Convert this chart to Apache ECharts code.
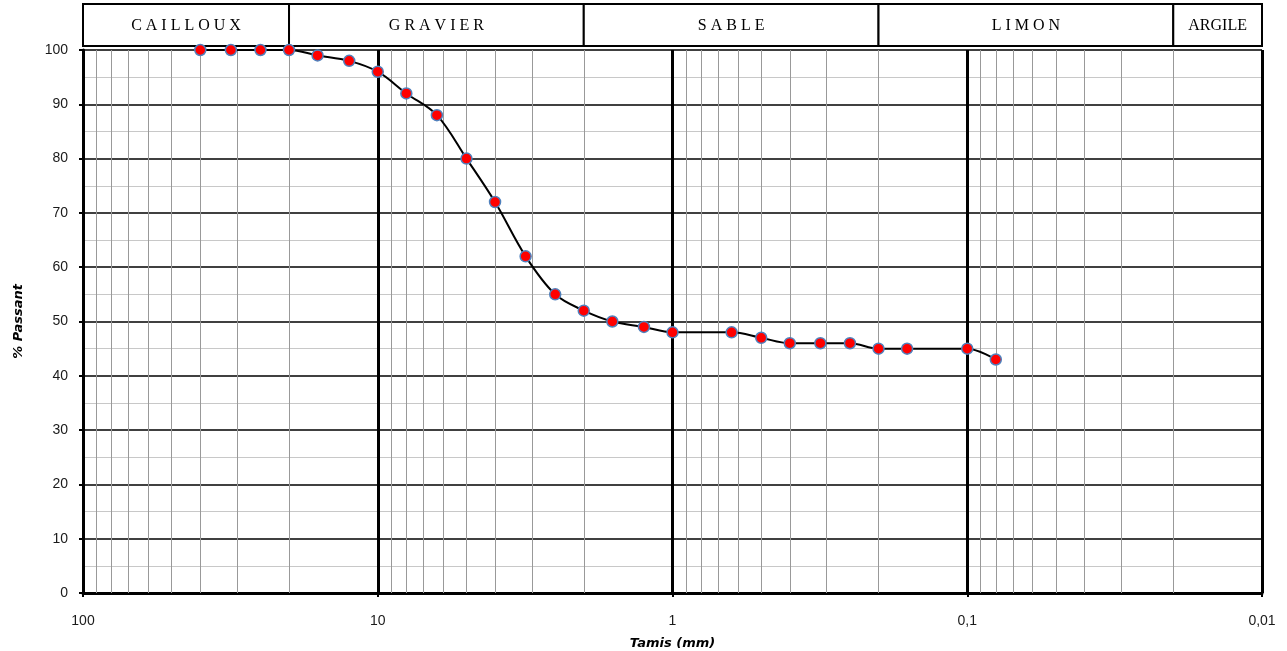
<!DOCTYPE html>
<html>
<head>
<meta charset="utf-8">
<script src="https://cdn.jsdelivr.net/npm/echarts@6/dist/echarts.min.js"></script>
<style>
  html, body { margin: 0; padding: 0; background: #fff; }
  #chart { width: 1287px; height: 651px; }
</style>
</head>
<body>
<div id="chart"></div>
<script>
// tamis (mm) et % passant
const sieves = [40, 31.5, 25, 20, 16, 12.5, 10, 8, 6.3, 5, 4, 3.15, 2.5, 2, 1.6, 1.25, 1, 0.63, 0.5, 0.4, 0.315, 0.25, 0.2, 0.16, 0.1, 0.08]
const passing = [100, 100, 100, 100, 99, 98, 96, 92, 88, 80, 72, 62, 55, 52, 50, 49, 48, 48, 47, 46, 46, 46, 45, 45, 45, 43]

// classes granulométriques (bandeau du haut)
const zoneEdges = [100, 20, 2, 0.2, 0.02, 0.01]
const zoneNames = ['C A I L L O U X', 'G R A V I E R', 'S A B L E', 'L I M O N', 'ARGILE']

// lignes de grille secondaires (2..9 par décade)
const decades = [10, 1, 0.1, 0.01]
const minorGrid = []
decades.forEach(d => {
  for (let k = 2; k <= 9; k++) minorGrid.push(+(d * k).toPrecision(3))
})
const thickLines = [10, 1, 0.1]

const chart = echarts.init(document.getElementById('chart'))

const nameStyle = { fontFamily: 'DejaVu Sans', fontStyle: 'italic', fontWeight: 'bold', fontSize: 13, color: '#000' }

let option = {
  animation: false,
  grid: { left: 83, right: 25, top: 50, bottom: 58, outerBoundsMode: 'none', containLabel: false },
  xAxis: {
    type: 'log',
    logBase: 10,
    min: 0.01,
    max: 100,
    inverse: true,
    name: 'Tamis (mm)',
    nameLocation: 'middle',
    nameGap: 44,
    nameTextStyle: nameStyle,
    axisLine: { lineStyle: { color: '#000', width: 3 } },
    axisTick: { show: true, length: 4, lineStyle: { color: '#000', width: 2 } },
    axisLabel: {
      margin: 21,
      fontFamily: 'Liberation Sans',
      fontSize: 14,
      color: '#1a1a1a',
      formatter: v => String(v).replace('.', ',')
    },
    splitLine: { show: true, lineStyle: { color: '#000', width: 3 } }
  },
  yAxis: {
    type: 'value',
    min: 0,
    max: 100,
    interval: 10,
    name: '% Passant',
    nameLocation: 'middle',
    nameGap: 58,
    nameRotate: 90,
    nameTextStyle: nameStyle,
    axisLine: { show: true, lineStyle: { color: '#000', width: 3 } },
    axisTick: { show: true, length: 4, lineStyle: { color: '#000', width: 2 } },
    axisLabel: { margin: 15, fontFamily: 'Liberation Sans', fontSize: 14, color: '#1a1a1a' },
    splitLine: { show: true, lineStyle: { color: '#000', width: 1.5 } },
    minorTick: { show: false, splitNumber: 2 },
    minorSplitLine: { show: true, lineStyle: { color: '#c8c8c8', width: 1 } }
  },
  series: [
    {
      type: 'line',
      data: [],
      silent: true,
      z: 1,
      markLine: {
        silent: true,
        symbol: 'none',
        label: { show: false },
        lineStyle: { color: '#999', width: 1, type: 'solid' },
        data: minorGrid.map(v => ({ xAxis: v }))
      }
    },
    {
      type: 'line',
      data: [],
      silent: true,
      z: 2,
      markLine: {
        silent: true,
        symbol: 'none',
        label: { show: false },
        lineStyle: { color: '#000', width: 3, type: 'solid' },
        data: thickLines.map(v => ({ xAxis: v }))
      }
    },
    {
      type: 'line',
      data: sieves.map((s, i) => [s, passing[i]]),
      smooth: 0.35,
      z: 5,
      lineStyle: { color: '#000', width: 2 },
      symbol: 'circle',
      symbolSize: 11,
      itemStyle: { color: '#ff0000', borderColor: '#4f81bd', borderWidth: 1.5 }
    }
  ]
}
chart.setOption(option)

// bandeau des classes au-dessus du graphique
const boxTop = 4, boxBottom = 46
const graphic = []
for (let i = 0; i < zoneNames.length; i++) {
  const x0 = chart.convertToPixel({ xAxisIndex: 0 }, zoneEdges[i])
  const x1 = chart.convertToPixel({ xAxisIndex: 0 }, zoneEdges[i + 1])
  graphic.push({
    type: 'rect',
    shape: { x: x0, y: boxTop, width: x1 - x0, height: boxBottom - boxTop },
    style: { fill: '#fff', stroke: '#000', lineWidth: 2 }
  })
  graphic.push({
    type: 'text',
    x: (x0 + x1) / 2,
    y: (boxTop + boxBottom) / 2 + 1,
    style: {
      text: zoneNames[i],
      fill: '#000',
      font: '16px "Liberation Serif", serif',
      align: 'center',
      verticalAlign: 'middle'
    }
  })
}
chart.setOption({ graphic: graphic })
</script>
</body>
</html>
